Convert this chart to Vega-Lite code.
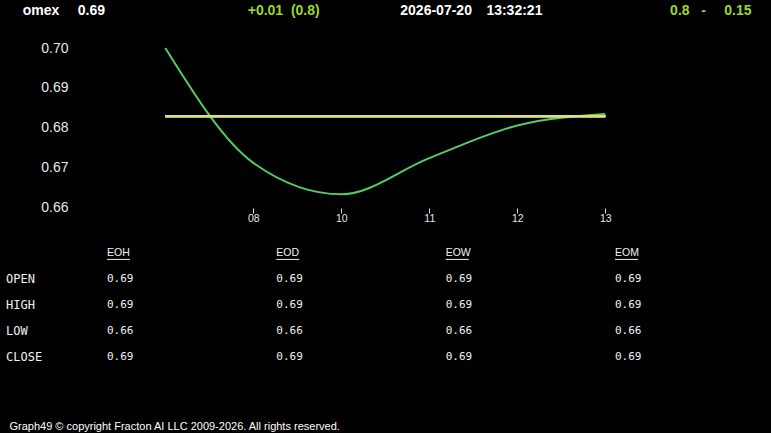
{
  "$schema": "https://vega.github.io/schema/vega-lite/v6.json",
  "width": 771,
  "height": 433,
  "autosize": {"type": "none"},
  "padding": 0,
  "background": "#000000",
  "config": {"view": {"stroke": null}, "axis": {"grid": false, "domain": false}},
  "title": {
    "text": "Graph49 © copyright Fracton AI LLC 2009-2026. All rights reserved.",
    "orient": "bottom", "anchor": "start", "frame": "group", "dx": 9.5, "offset": -3,
    "baseline": "alphabetic", "font": "Liberation Sans", "fontSize": 11, "fontWeight": "normal", "color": "#ffffff"
  },
  "datasets": {
    "series": [
      {"hour": "07", "v": 0.7000},
      {"hour": "08", "v": 0.6711},
      {"hour": "10", "v": 0.6632},
      {"hour": "11", "v": 0.6723},
      {"hour": "12", "v": 0.6805},
      {"hour": "13", "v": 0.6834}
    ],
    "ohlc": [
      {"period": "EOH", "field": "OPEN", "value": 0.69},
      {"period": "EOH", "field": "HIGH", "value": 0.69},
      {"period": "EOH", "field": "LOW", "value": 0.66},
      {"period": "EOH", "field": "CLOSE", "value": 0.69},
      {"period": "EOD", "field": "OPEN", "value": 0.69},
      {"period": "EOD", "field": "HIGH", "value": 0.69},
      {"period": "EOD", "field": "LOW", "value": 0.66},
      {"period": "EOD", "field": "CLOSE", "value": 0.69},
      {"period": "EOW", "field": "OPEN", "value": 0.69},
      {"period": "EOW", "field": "HIGH", "value": 0.69},
      {"period": "EOW", "field": "LOW", "value": 0.66},
      {"period": "EOW", "field": "CLOSE", "value": 0.69},
      {"period": "EOM", "field": "OPEN", "value": 0.69},
      {"period": "EOM", "field": "HIGH", "value": 0.69},
      {"period": "EOM", "field": "LOW", "value": 0.66},
      {"period": "EOM", "field": "CLOSE", "value": 0.69}
    ],
    "periods": [{"period": "EOH"}, {"period": "EOD"}, {"period": "EOW"}, {"period": "EOM"}],
    "fields": [{"field": "OPEN"}, {"field": "HIGH"}, {"field": "LOW"}, {"field": "CLOSE"}],
    "ticker": [
      {"slot": "symbol", "text": "omex\u00a0\u00a0\u00a0\u00a0\u20090.69"},
      {"slot": "time", "text": "2026-07-20\u00a0\u00a0\u00a0\u200913:32:21"}
    ],
    "move": [
      {"slot": "change", "text": "+0.01\u00a0\u00a0(0.8)"},
      {"slot": "range", "text": "0.8\u00a0\u00a0\u00a0-\u00a0\u00a0\u00a0\u00a0\u20090.15"}
    ]
  },
  "layer": [
    {
      "data": {"name": "series"},
      "layer": [
        {
          "mark": {"type": "line", "color": "#52cc66", "strokeWidth": 2, "interpolate": "monotone"},
          "encoding": {
            "x": {
              "field": "hour", "type": "ordinal",
              "scale": {"type": "point", "domain": ["07", "08", "10", "11", "12", "13"], "range": [165.3, 605.3], "padding": 0},
              "axis": {"orient": "bottom", "offset": -225, "values": ["08", "10", "11", "12", "13"], "title": null,
                "ticks": true, "tickSize": 5, "tickColor": "#dddddd", "tickWidth": 1, "labelPadding": 0, "labelAngle": 0,
                "labelFont": "Liberation Sans", "labelFontSize": 10.5, "labelColor": "#e8e8e8", "domain": false}
            },
            "y": {
              "field": "v", "type": "quantitative",
              "scale": {"domain": [0.66, 0.70], "range": [207, 48], "zero": false, "nice": false},
              "axis": {"orient": "left", "offset": -70, "values": [0.66, 0.67, 0.68, 0.69, 0.70], "format": ".2f", "title": null,
                "ticks": false, "tickSize": 0, "labelPadding": 2, "labelFont": "Liberation Sans", "labelFontSize": 14,
                "labelColor": "#e8e8e8", "domain": false}
            }
          }
        },
        {
          "mark": {"type": "rule", "color": "#d9e27a", "strokeWidth": 2},
          "encoding": {
            "x": {"datum": "07", "type": "ordinal"},
            "x2": {"datum": "13"},
            "y": {"datum": 0.6828, "type": "quantitative"}
          }
        }
      ]
    },
    {
      "layer": [
        {
          "data": {"name": "ohlc"},
          "mark": {"type": "text", "align": "left", "baseline": "middle", "font": "DejaVu Sans Mono", "fontSize": 11, "color": "#f2f2f2"},
          "encoding": {
            "x": {"field": "period", "type": "nominal", "scale": {"type": "point", "domain": ["EOH", "EOD", "EOW", "EOM"], "range": [107, 615], "padding": 0}, "axis": null},
            "y": {"field": "field", "type": "nominal", "scale": {"type": "point", "domain": ["th", "OPEN", "HIGH", "LOW", "CLOSE"], "range": [253.4, 356.6], "padding": 0}, "axis": null},
            "text": {"field": "value", "type": "quantitative", "format": ".2f"}
          }
        },
        {
          "data": {"name": "periods"},
          "mark": {"type": "text", "align": "left", "baseline": "middle", "font": "Liberation Sans", "fontSize": 10.5, "color": "#f2f2f2"},
          "encoding": {
            "x": {"field": "period", "type": "nominal"},
            "y": {"datum": "th", "type": "nominal"},
            "text": {"field": "period", "type": "nominal"}
          }
        },
        {
          "data": {"name": "periods"},
          "mark": {"type": "rule", "color": "#f2f2f2", "strokeWidth": 1, "yOffset": 6, "x2Offset": 23},
          "encoding": {
            "x": {"field": "period", "type": "nominal"},
            "x2": {"field": "period"},
            "y": {"datum": "th", "type": "nominal"}
          }
        }
      ]
    },
    {
      "data": {"name": "fields"},
      "mark": {"type": "text", "align": "left", "baseline": "middle", "font": "DejaVu Sans Mono", "fontSize": 12, "color": "#f2f2f2"},
      "encoding": {
        "x": {"datum": "rowlabel", "type": "nominal", "scale": {"type": "point", "domain": ["rowlabel"], "range": [0, 12], "padding": 0}, "axis": null},
        "y": {"field": "field", "type": "nominal", "scale": {"type": "point", "domain": ["OPEN", "HIGH", "LOW", "CLOSE"], "range": [279.2, 356.6], "padding": 0}, "axis": null},
        "text": {"field": "field", "type": "nominal"}
      }
    },
    {
      "data": {"name": "ticker"},
      "mark": {"type": "text", "align": "left", "baseline": "alphabetic", "font": "Liberation Sans", "fontSize": 14, "fontWeight": "bold", "color": "#ffffff"},
      "encoding": {
        "x": {"field": "slot", "type": "nominal", "scale": {"type": "point", "domain": ["symbol", "time"], "range": [22.8, 400.3], "padding": 0}, "axis": null},
        "y": {"datum": "top", "type": "nominal", "scale": {"type": "point", "domain": ["top"], "range": [0, 30], "padding": 0}, "axis": null},
        "text": {"field": "text", "type": "nominal"}
      }
    },
    {
      "data": {"name": "move"},
      "mark": {"type": "text", "align": "left", "baseline": "alphabetic", "font": "Liberation Sans", "fontSize": 14, "fontWeight": "bold", "color": "#9ad82e"},
      "encoding": {
        "x": {"field": "slot", "type": "nominal", "scale": {"type": "point", "domain": ["change", "range"], "range": [247.7, 670.1], "padding": 0}, "axis": null},
        "y": {"datum": "top", "type": "nominal", "scale": {"type": "point", "domain": ["top"], "range": [0, 30], "padding": 0}, "axis": null},
        "text": {"field": "text", "type": "nominal"}
      }
    }
  ],
  "resolve": {
    "scale": {"x": "independent", "y": "independent"},
    "axis": {"x": "independent", "y": "independent"}
  }
}
